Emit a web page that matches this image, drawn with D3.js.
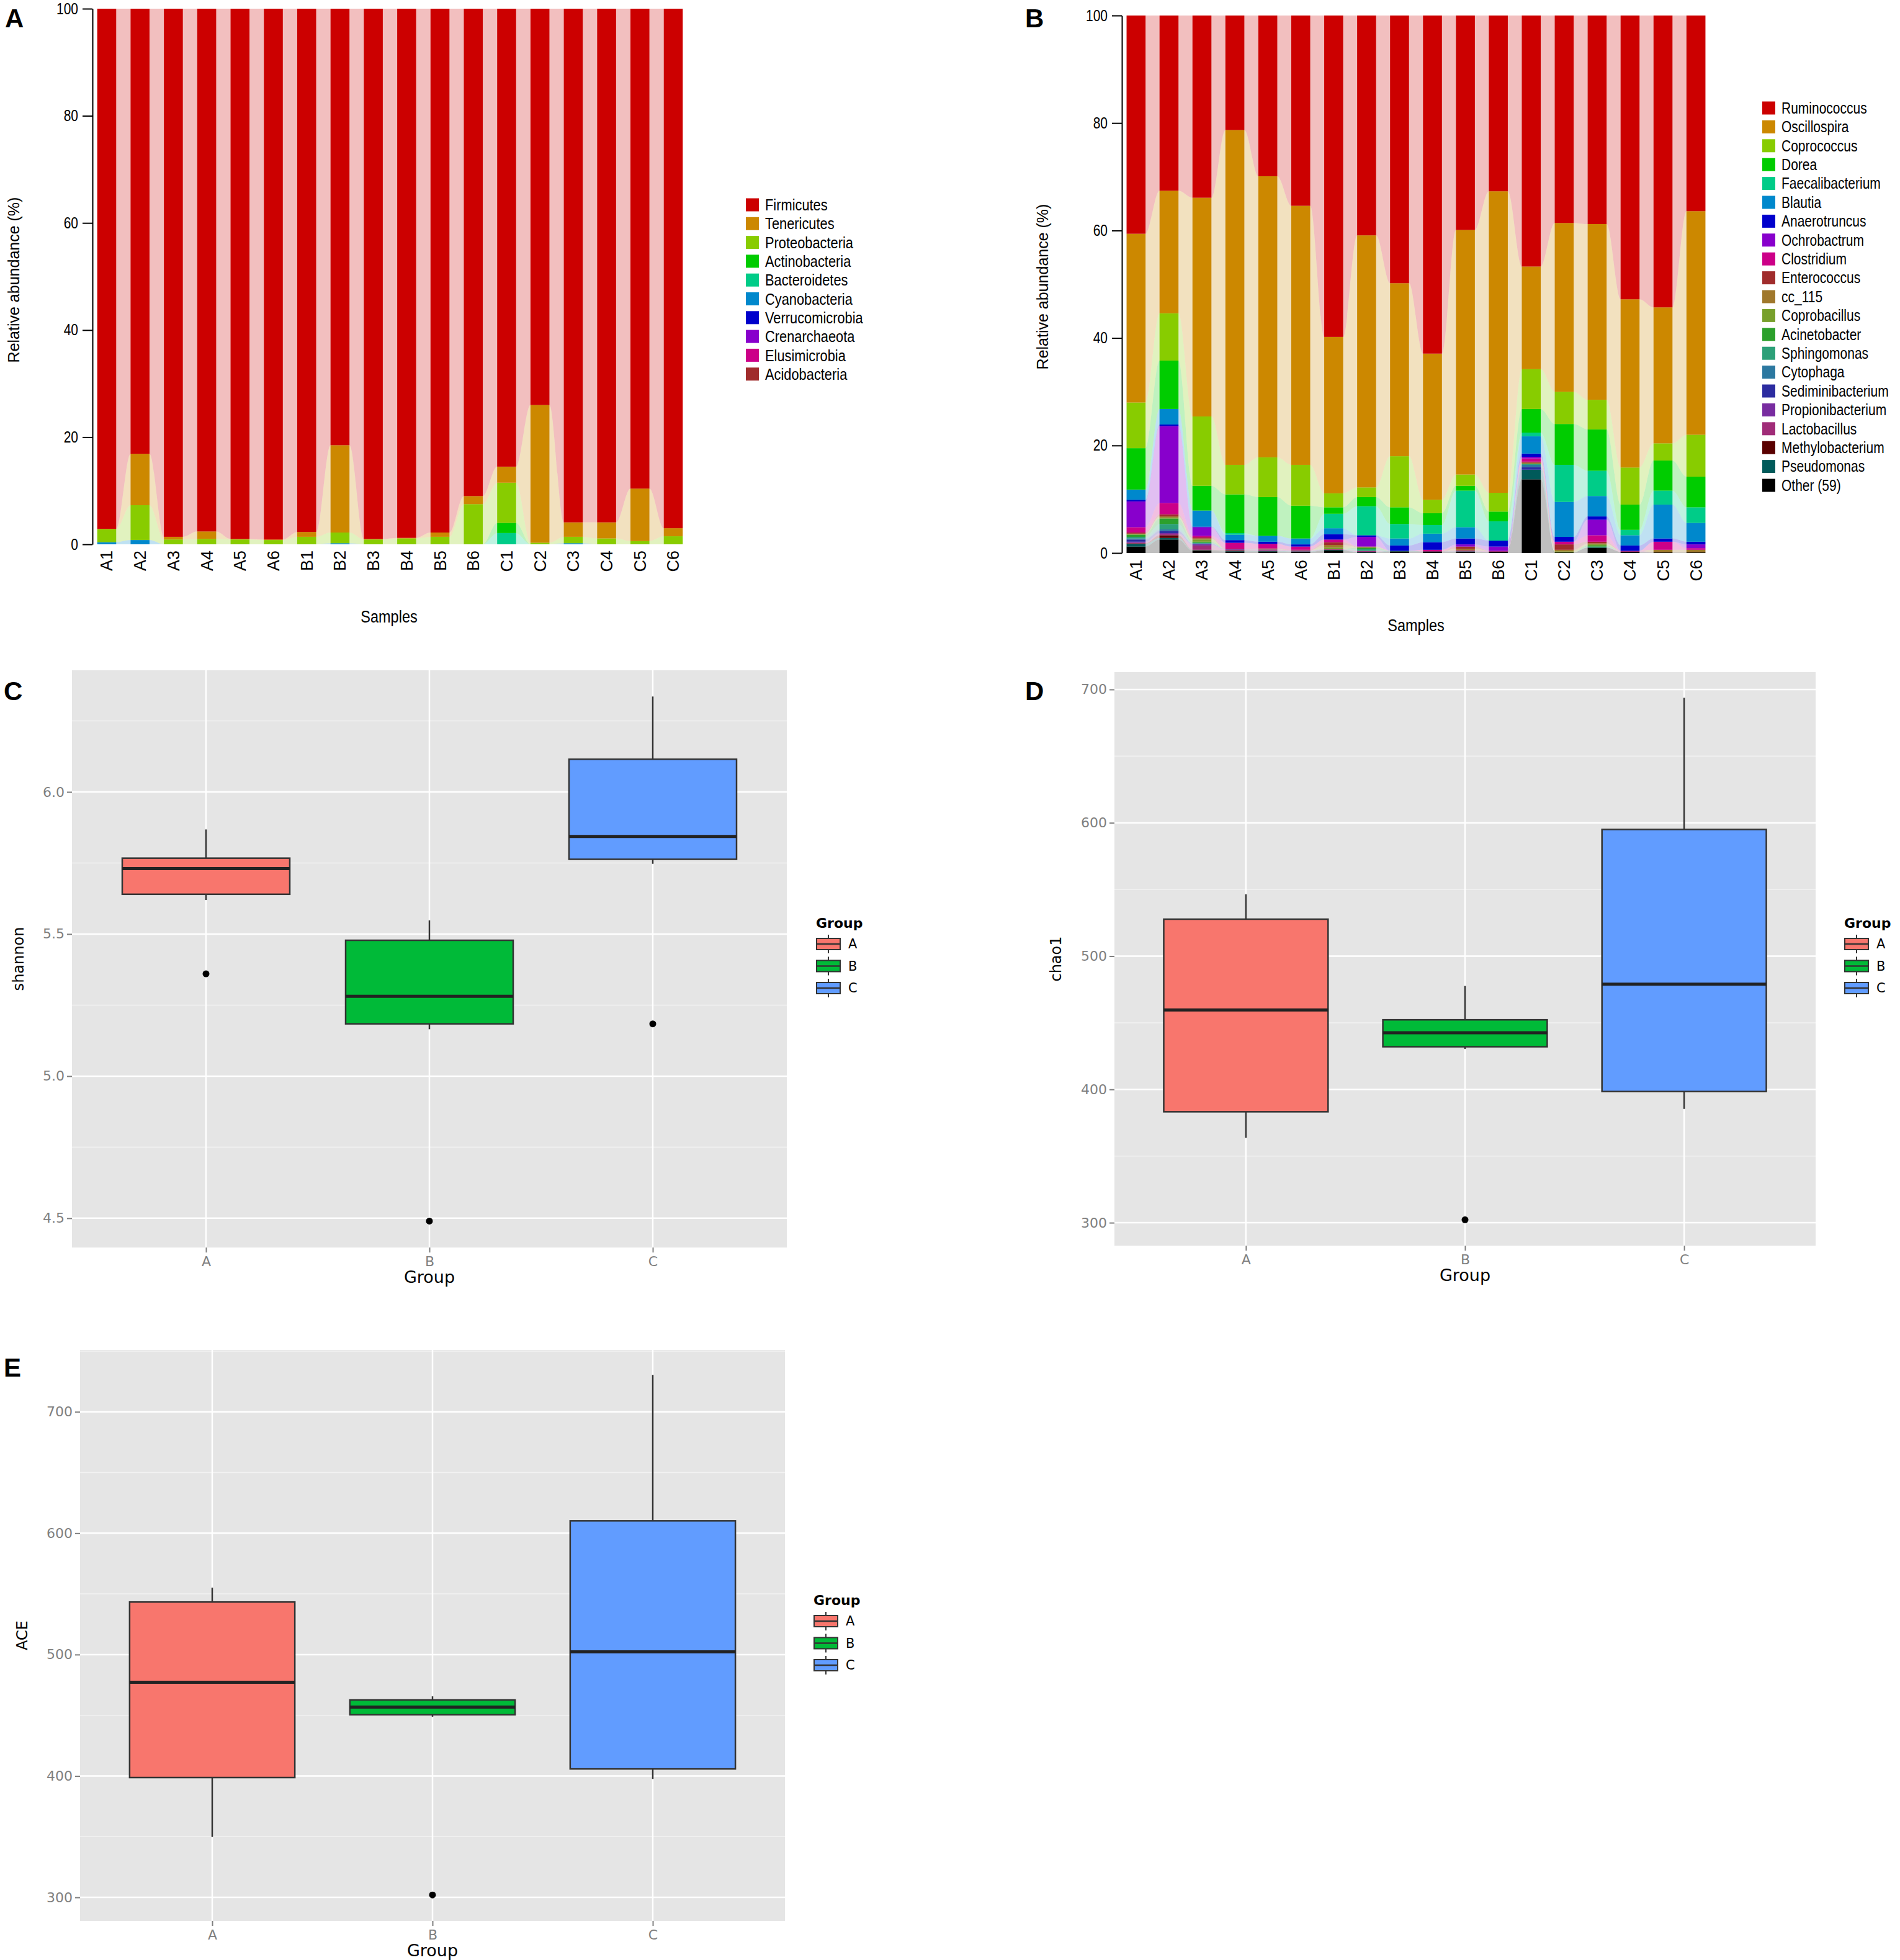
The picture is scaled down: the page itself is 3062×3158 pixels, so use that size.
<!DOCTYPE html>
<html>
<head>
<meta charset="utf-8">
<script src="https://cdn.jsdelivr.net/npm/d3@7"></script>
<style>
  body { margin: 0; background: #fff; }
  svg { display: block; }
</style>
</head>
<body>
<div id="chart"></div>
<script>
// ---------- data ----------
const samples = ['A1','A2','A3','A4','A5','A6','B1','B2','B3','B4','B5','B6','C1','C2','C3','C4','C5','C6'];

// panel A : phylum level (% per sample)
const phyla = ['Firmicutes','Tenericutes','Proteobacteria','Actinobacteria','Bacteroidetes',
  'Cyanobacteria','Verrucomicrobia','Crenarchaeota','Elusimicrobia','Acidobacteria'];
const phylumColors = ['#CC0000','#CC8800','#88CC00','#00CC00','#00CC88',
  '#0088CC','#0000CC','#8800CC','#CC0088','#A02C2C'];
const phylumValues = [
  [97.1,83.1,98.6,97.6,99.0,99.1,97.7,81.5,99.0,98.8,97.8,91.0,85.5,74.0,95.9,95.9,89.6,97.0],
  [0.1,9.6,0.5,1.4,0.1,0.1,0.9,16.3,0.1,0.1,0.8,1.5,3.0,25.7,2.7,3.0,9.8,1.5],
  [2.4,6.5,0.9,1.0,0.9,0.8,1.4,2.0,0.9,1.1,1.4,7.5,7.5,0.3,1.2,1.1,0.6,1.5],
  [0,0,0,0,0,0,0,0,0,0,0,0,1.9,0,0,0,0,0],
  [0,0,0,0,0,0,0,0,0,0,0,0,2.1,0,0,0,0,0],
  [0.4,0.8,0,0,0,0,0,0.2,0,0,0,0,0,0,0.2,0,0,0],
  [0,0,0,0,0,0,0,0,0,0,0,0,0,0,0,0,0,0],
  [0,0,0,0,0,0,0,0,0,0,0,0,0,0,0,0,0,0],
  [0,0,0,0,0,0,0,0,0,0,0,0,0,0,0,0,0,0],
  [0,0,0,0,0,0,0,0,0,0,0,0,0,0,0,0,0,0]
];

// panel B : genus level (% per sample)
const genera = ['Ruminococcus','Oscillospira','Coprococcus','Dorea','Faecalibacterium','Blautia',
  'Anaerotruncus','Ochrobactrum','Clostridium','Enterococcus','cc_115','Coprobacillus','Acinetobacter',
  'Sphingomonas','Cytophaga','Sediminibacterium','Propionibacterium','Lactobacillus',
  'Methylobacterium','Pseudomonas','Other (59)'];
const genusColors = ['#CC0000','#CC8800','#88CC00','#00CC00','#00CC88','#0088CC',
  '#0000CC','#8800CC','#CC0088','#A02C2C','#A0782C','#78A02C','#2CA02C',
  '#2CA078','#2C78A0','#2C2CA0','#782CA0','#A02C78',
  '#5A0000','#005A5A','#000000'];
const genusValues = [
  [40.6,32.6,33.9,21.3,29.9,35.4,59.8,40.9,49.8,62.9,39.9,32.7,46.7,38.6,38.8,52.8,54.3,36.4],
  [31.4,22.8,40.7,62.3,52.3,48.2,29.1,46.9,32.2,27.2,45.5,56.1,19.1,31.4,32.7,31.3,25.3,41.6],
  [8.5,8.8,12.9,5.5,7.4,7.6,2.6,1.8,9.5,2.5,2.1,3.5,7.4,6.0,5.5,6.9,3.2,7.8],
  [7.7,9.0,4.6,7.2,7.2,6.1,1.2,1.7,3.1,2.2,0.9,1.8,4.4,7.6,7.7,4.7,5.6,5.7],
  [0,0,0,0.3,0,0,2.7,5.4,2.7,1.6,6.8,3.6,0.7,6.9,4.7,1.0,2.6,2.9],
  [1.9,2.9,3.0,1.0,1.1,1.1,1.1,0,1.3,1.6,2.1,0,3.2,6.5,3.8,1.9,6.3,3.5],
  [0.3,0.3,0.1,0.5,0.4,0.4,1.0,0.3,1.0,1.4,1.1,1.1,0.6,0.9,0.6,1.0,0.6,0.5],
  [4.8,14.3,1.6,0,0,0,0,1.8,0,0,0.4,0.8,0.3,0,2.9,0,0,0.7],
  [1.0,2.1,0.3,1.1,0.85,0.6,0.5,0,0,0.3,0,0,0.6,0.5,1.2,0,1.5,0.3],
  [0.2,0.4,0.2,0.1,0.1,0.1,0.5,0,0,0,0.4,0,0.2,1.0,0.3,0,0,0],
  [0.1,0.2,0.2,0,0.1,0,0.5,0.2,0,0,0.3,0,0.2,0.3,0.2,0,0.5,0.5],
  [0.1,0.2,0.4,0,0,0,0.3,0,0,0,0,0,0,0.2,0.2,0,0,0],
  [0.4,1.0,0.2,0,0,0,0,0.3,0,0,0,0,0,0,0.2,0,0,0],
  [0.3,1.0,0.1,0,0,0,0,0.3,0,0,0,0,0.2,0,0.2,0,0,0],
  [0.2,0.3,0.1,0,0,0,0,0,0,0,0,0,0.4,0,0,0,0,0],
  [0.4,0.4,0.1,0,0,0,0,0,0,0,0,0,0.5,0,0,0,0,0],
  [0.2,0.2,0.2,0.1,0.1,0.1,0,0,0,0,0,0,0,0,0,0,0,0],
  [0.1,0.2,0.8,0.1,0.15,0.1,0.1,0.2,0,0,0.2,0.2,0,0,0,0.2,0,0],
  [0.1,0.5,0.1,0.1,0,0,0,0,0,0,0,0,0,0,0,0,0,0],
  [0.5,0.3,0.1,0.1,0.1,0.1,0.1,0.1,0.1,0,0.1,0,1.8,0,0,0,0,0],
  [1.2,2.5,0.4,0.3,0.3,0.2,0.5,0.1,0.3,0.3,0.2,0.2,13.7,0.1,1.0,0.2,0.1,0.1]
];
const percentTicks = [0, 20, 40, 60, 80, 100];

// panels C-E : alpha diversity, [lower whisker, q1, median, q3, upper whisker] per group
const groups = ['A', 'B', 'C'];
const groupColors = ['#F8766D', '#00BA38', '#619CFF'];
const shannonBox = [[5.62,5.64,5.73,5.767,5.868],[5.165,5.184,5.281,5.478,5.548],[5.747,5.763,5.843,6.115,6.336]];
const shannonOutliers = [[5.36],[4.49],[5.184]];
const shannonTicks = [4.5, 5.0, 5.5, 6.0];
const chao1Box = [[363.7,383.2,459.6,527.7,546.3],[430.4,432.0,442.5,452.2,477.6],[385.4,398.4,478.9,595.0,693.8]];
const chao1Outliers = [[],[302.2],[]];
const chao1Ticks = [300, 400, 500, 600, 700];
const aceBox = [[349.8,398.7,477.2,543.3,555.2],[448.8,450.4,456.7,462.6,465.6],[397.5,405.8,502.3,610.2,730.4]];
const aceOutliers = [[],[302],[]];
const aceTicks = [300, 400, 500, 600, 700];

const SANS = "'Liberation Sans',Arial,sans-serif";
const GG = "'DejaVu Sans',sans-serif";
const SQUEEZE = 0.84;   // the bar panels use a condensed face

const svg = d3.select('#chart').append('svg')
  .attr('width', 3062).attr('height', 3158)
  .style('background', '#fff');

// ---------- stacked bars with flowing ribbons ----------
class StackedFlow {
  constructor(_config, _series, _values, _colors) {
    this.config = _config;
    this.series = _series;
    this.values = _values;
    this.colors = _colors;
    this.initVis();
  }

  initVis() {
    let vis = this;
    const c = vis.config;
    // xscale
    vis.xScale = d3.scaleBand().domain(samples)
      .range([c.x0, c.x1]).paddingInner(c.padIn).paddingOuter(0.2);
    // yscale
    vis.yScale = d3.scaleLinear().domain([0, 100]).range([c.yBottom, c.yTop]);
    vis.colorOf = k => vis.colors[vis.series.indexOf(k)];
    // rows for stack, bottom layer = last legend entry
    const rows = samples.map((s, i) => {
      const r = { sample: s };
      vis.series.forEach((k, j) => r[k] = vis.values[j][i]);
      return r;
    });
    vis.layers = d3.stack().keys(vis.series.slice().reverse())(rows);
    vis.chart = svg.append('g');
  }

  renderVis() {
    let vis = this;
    const c = vis.config;
    const bw = vis.xScale.bandwidth();
    // ribbons between bars
    const area = d3.area().curve(d3.curveMonotoneX)
      .x(d => d.x).y0(d => vis.yScale(d.y0)).y1(d => vis.yScale(d.y1));
    vis.chart.append('g').selectAll('path')
      .data(vis.layers)
      .join('path')
      .attr('d', layer => area(layer.flatMap(d => {
        const x0 = vis.xScale(d.data.sample);
        return [{ x: x0, y0: d[0], y1: d[1] }, { x: x0 + bw, y0: d[0], y1: d[1] }];
      })))
      .attr('fill', layer => vis.colorOf(layer.key))
      .attr('fill-opacity', 0.25);
    // bars
    vis.chart.append('g').selectAll('g')
      .data(vis.layers)
      .join('g')
      .attr('fill', layer => vis.colorOf(layer.key))
      .selectAll('rect')
      .data(layer => layer)
      .join('rect')
      .attr('x', d => vis.xScale(d.data.sample))
      .attr('width', bw)
      .attr('y', d => vis.yScale(d[1]))
      .attr('height', d => Math.max(0, vis.yScale(d[0]) - vis.yScale(d[1])));
    // y axis
    const yAxisG = vis.chart.append('g')
      .attr('transform', `translate(${c.axisX},0)`)
      .call(d3.axisLeft(vis.yScale).tickValues(percentTicks).tickSize(16).tickSizeOuter(0).tickPadding(7));
    yAxisG.selectAll('path,line').attr('stroke', '#000').attr('stroke-width', 2);
    yAxisG.selectAll('text')
      .attr('x', -23 / SQUEEZE)
      .attr('transform', `scale(${SQUEEZE},1)`)
      .attr('font-family', SANS).attr('font-size', 25).attr('fill', '#000');
    // x labels
    const xAxisG = vis.chart.append('g')
      .attr('transform', `translate(0,${c.yBottom})`)
      .call(d3.axisBottom(vis.xScale).tickSize(0));
    xAxisG.select('.domain').remove();
    xAxisG.selectAll('text')
      .attr('transform', 'rotate(-90)')
      .attr('x', -c.labelGap).attr('y', 0).attr('dy', '0.35em')
      .attr('text-anchor', 'end')
      .attr('font-family', SANS).attr('font-size', 27).attr('fill', '#000');
    // axis titles
    vis.chart.append('text')
      .attr('transform', `translate(${c.yTitleX},${c.yTitleY}) rotate(-90)`)
      .attr('text-anchor', 'middle').attr('dy', '0.35em')
      .attr('font-family', SANS).attr('font-size', 25)
      .text('Relative abundance (%)');
    vis.chart.append('text')
      .attr('transform', `translate(${c.xTitleX},${c.xTitleY}) scale(${SQUEEZE},1)`)
      .attr('dy', '0.35em')
      .attr('text-anchor', 'middle')
      .attr('font-family', SANS).attr('font-size', 28)
      .text('Samples');
    // legend
    const leg = vis.chart.append('g').selectAll('g')
      .data(vis.series)
      .join('g')
      .attr('transform', (d, i) => `translate(${c.legX},${c.legY + i * c.legStep})`);
    leg.append('rect')
      .attr('x', 0).attr('y', -10.5).attr('width', 21).attr('height', 21)
      .attr('fill', (d, i) => vis.colors[i]);
    leg.append('text')
      .attr('transform', `translate(31,0) scale(${SQUEEZE},1)`)
      .attr('dy', '0.35em')
      .attr('font-family', SANS).attr('font-size', c.legFont)
      .text(d => d);
  }
}

// ---------- ggplot-like box plot panel ----------
class BoxPanel {
  constructor(_config, _boxes, _outliers) {
    this.config = _config;
    this.boxes = _boxes;
    this.outliers = _outliers;
    this.initVis();
  }

  initVis() {
    let vis = this;
    const c = vis.config;
    vis.xScale = d3.scalePoint().domain(groups).range([c.left, c.right]).padding(0.6);
    vis.yScale = d3.scaleLinear().domain(c.domain).range([c.bottom, c.top]);
    vis.chart = svg.append('g');
  }

  renderVis() {
    let vis = this;
    const c = vis.config;
    const x = vis.xScale, y = vis.yScale;
    const bw = x.step() * 0.75;
    const data = groups.map((g, i) => ({ g, s: vis.boxes[i], o: vis.outliers[i], col: groupColors[i] }));
    // panel
    vis.chart.append('rect')
      .attr('x', c.left).attr('y', c.top)
      .attr('width', c.right - c.left).attr('height', c.bottom - c.top)
      .attr('fill', '#E5E5E5');
    // minor grid
    const minor = d3.range(c.ticks.length + 1).map(i => c.ticks[0] + (i - 0.5) * (c.ticks[1] - c.ticks[0]))
      .filter(v => v > c.domain[0] && v < c.domain[1]);
    vis.chart.append('g').selectAll('line').data(minor).join('line')
      .attr('x1', c.left).attr('x2', c.right)
      .attr('y1', d => y(d)).attr('y2', d => y(d))
      .attr('stroke', '#F2F2F2').attr('stroke-width', 1.5);
    // major grid
    vis.chart.append('g').selectAll('line').data(c.ticks).join('line')
      .attr('x1', c.left).attr('x2', c.right)
      .attr('y1', d => y(d)).attr('y2', d => y(d))
      .attr('stroke', '#fff').attr('stroke-width', 2.5);
    vis.chart.append('g').selectAll('line').data(groups).join('line')
      .attr('x1', d => x(d)).attr('x2', d => x(d))
      .attr('y1', c.top).attr('y2', c.bottom)
      .attr('stroke', '#fff').attr('stroke-width', 2.5);
    // whiskers
    vis.chart.append('g').selectAll('line').data(data).join('line')
      .attr('x1', d => x(d.g)).attr('x2', d => x(d.g))
      .attr('y1', d => y(d.s[0])).attr('y2', d => y(d.s[4]))
      .attr('stroke', '#333').attr('stroke-width', 2.5);
    // boxes
    vis.chart.append('g').selectAll('rect').data(data).join('rect')
      .attr('x', d => x(d.g) - bw / 2).attr('width', bw)
      .attr('y', d => y(d.s[3])).attr('height', d => y(d.s[1]) - y(d.s[3]))
      .attr('fill', d => d.col)
      .attr('stroke', '#333').attr('stroke-width', 2.5);
    // medians
    vis.chart.append('g').selectAll('line').data(data).join('line')
      .attr('x1', d => x(d.g) - bw / 2).attr('x2', d => x(d.g) + bw / 2)
      .attr('y1', d => y(d.s[2])).attr('y2', d => y(d.s[2]))
      .attr('stroke', '#222').attr('stroke-width', 5);
    // outliers
    vis.chart.append('g').selectAll('circle')
      .data(data.flatMap(d => d.o.map(v => ({ g: d.g, v }))))
      .join('circle')
      .attr('cx', d => x(d.g)).attr('cy', d => y(d.v)).attr('r', 5.5)
      .attr('fill', '#000');
    // axes
    const yAxisG = vis.chart.append('g')
      .attr('transform', `translate(${c.left},0)`)
      .call(d3.axisLeft(y).tickValues(c.ticks).tickFormat(c.format).tickSize(8).tickPadding(4));
    const xAxisG = vis.chart.append('g')
      .attr('transform', `translate(0,${c.bottom})`)
      .call(d3.axisBottom(x).tickSize(8).tickPadding(6));
    [yAxisG, xAxisG].forEach(g => {
      g.select('.domain').remove();
      g.selectAll('line').attr('stroke', '#7F7F7F').attr('stroke-width', 2);
      g.selectAll('text').attr('font-family', GG).attr('font-size', 22).attr('fill', '#7F7F7F');
    });
    // titles
    vis.chart.append('text')
      .attr('x', (c.left + c.right) / 2).attr('y', c.bottom + 48).attr('dy', '0.35em')
      .attr('text-anchor', 'middle').attr('font-family', GG).attr('font-size', 27)
      .text('Group');
    vis.chart.append('text')
      .attr('transform', `translate(${c.yTitleX},${(c.top + c.bottom) / 2}) rotate(-90)`)
      .attr('text-anchor', 'middle').attr('dy', '0.35em')
      .attr('font-family', GG).attr('font-size', 24)
      .text(c.yTitle);
    // legend
    const lg = vis.chart.append('g').attr('transform', `translate(${c.legX},${c.legY})`);
    lg.append('text').attr('x', 0).attr('y', 0).attr('dy', '0.35em')
      .attr('font-family', GG).attr('font-weight', 'bold').attr('font-size', 22)
      .text('Group');
    const key = lg.selectAll('g.key').data(data).join('g')
      .attr('class', 'key')
      .attr('transform', (d, i) => `translate(0,${34 + i * 35.5})`);
    key.append('line').attr('x1', 20).attr('x2', 20).attr('y1', -15).attr('y2', 15)
      .attr('stroke', '#333').attr('stroke-width', 2);
    key.append('rect').attr('x', 1).attr('y', -9).attr('width', 38).attr('height', 18)
      .attr('fill', d => d.col).attr('stroke', '#333').attr('stroke-width', 2);
    key.append('line').attr('x1', 1).attr('x2', 39).attr('y1', 0).attr('y2', 0)
      .attr('stroke', '#333').attr('stroke-width', 2.5);
    key.append('text').attr('x', 52).attr('dy', '0.35em')
      .attr('font-family', GG).attr('font-size', 21)
      .text(d => d.g);
  }
}

// ---------- build panels ----------
const panelA = new StackedFlow({
  x0: 146, x1: 1111, padIn: 0.432, yBottom: 877, yTop: 14, axisX: 149, labelGap: 10,
  yTitleX: 22, yTitleY: 451, xTitleX: 627, xTitleY: 993,
  legX: 1202, legY: 330, legStep: 30.3, legFont: 26
}, phyla, phylumValues, phylumColors);
panelA.renderVis();

const panelB = new StackedFlow({
  x0: 1805, x1: 2759, padIn: 0.425, yBottom: 891, yTop: 25, axisX: 1808, labelGap: 11,
  yTitleX: 1680, yTitleY: 462, xTitleX: 2282, xTitleY: 1007,
  legX: 2840, legY: 174, legStep: 30.4, legFont: 25
}, genera, genusValues, genusColors);
panelB.renderVis();

const panelC = new BoxPanel({
  left: 116, right: 1268, top: 1080, bottom: 2010, domain: [4.397, 6.428],
  ticks: shannonTicks, format: d3.format('.1f'), yTitle: 'shannon', yTitleX: 30,
  legX: 1315, legY: 1487
}, shannonBox, shannonOutliers);
panelC.renderVis();

const panelD = new BoxPanel({
  left: 1796, right: 2926, top: 1083, bottom: 2007, domain: [282.8, 713],
  ticks: chao1Ticks, format: d3.format('d'), yTitle: 'chao1', yTitleX: 1702,
  legX: 2972, legY: 1487
}, chao1Box, chao1Outliers);
panelD.renderVis();

const panelE = new BoxPanel({
  left: 129, right: 1265, top: 2175, bottom: 3095, domain: [280.6, 751],
  ticks: aceTicks, format: d3.format('d'), yTitle: 'ACE', yTitleX: 36,
  legX: 1311, legY: 2578
}, aceBox, aceOutliers);
panelE.renderVis();

// panel letters
const letters = [['A', 8, 44], ['B', 1652, 44], ['C', 6, 1128], ['D', 1652, 1128], ['E', 6, 2218]];
svg.append('g').selectAll('text').data(letters).join('text')
  .attr('x', d => d[1]).attr('y', d => d[2])
  .attr('font-family', SANS).attr('font-weight', 'bold').attr('font-size', 42)
  .text(d => d[0]);
</script>
</body>
</html>
